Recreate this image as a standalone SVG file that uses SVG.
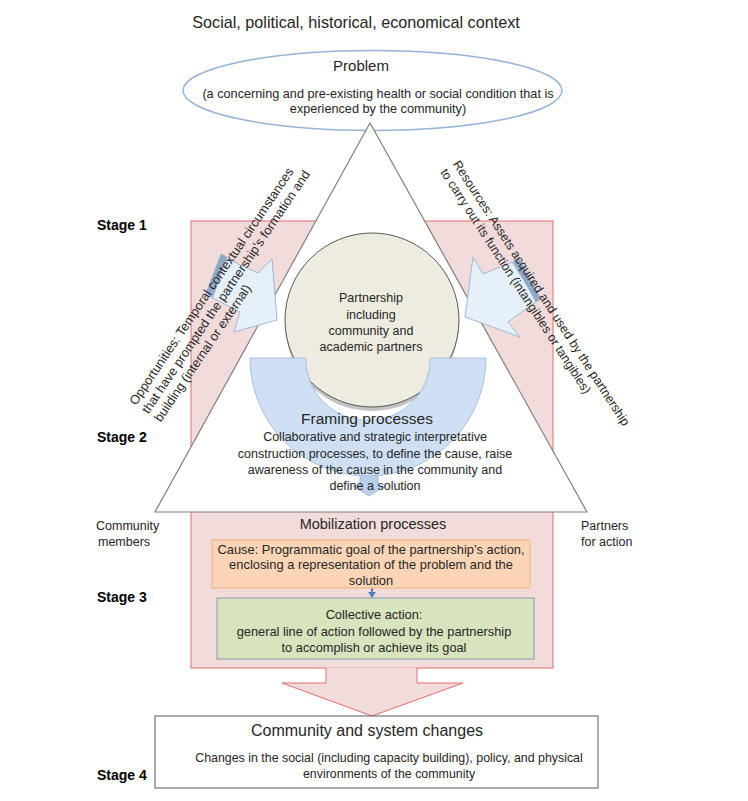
<svg xmlns="http://www.w3.org/2000/svg" width="748" height="801" viewBox="0 0 748 801">
<style>
text{font-family:"Liberation Sans",Arial,sans-serif;fill:#262626}
.c{text-anchor:middle}
.stage{font-weight:bold;font-size:14px;fill:#000}
.s12{font-size:12.5px}
.s13{font-size:12.9px}
.side{fill:#e6f0fb;stroke:#9fb8d8;stroke-width:1}
.band{fill:#8ea8c9;stroke:#8ea8c9;stroke-width:0.5}
</style>
<rect width="748" height="801" fill="#ffffff"/>

<g id="context">
<text class="c" x="356" y="28" font-size="16.2">Social, political, historical, economical context</text>
</g>

<g id="stage-area">
<rect x="191" y="221" width="362" height="447" fill="#f2dcdb" stroke="#e46c6c" stroke-width="1"/>
</g>

<g id="problem">
<ellipse cx="372.5" cy="90.5" rx="189.5" ry="40" fill="#ffffff" stroke="#95b3d7" stroke-width="1.5"/>
<text class="c" x="361" y="71" font-size="15">Problem</text>
<text class="c" x="378" y="98" font-size="12.7">(a concerning and pre-existing health or social condition that is</text>
<text class="c" x="378" y="113" font-size="12.7">experienced by the community)</text>
</g>

<g id="triangle">
<polygon points="370,123 155,512 587,512" fill="#ffffff" stroke="#7f7f7f" stroke-width="1.2"/>
</g>

<g id="connectors">
<polygon class="side" points="223,257 258,273 272,259 277,320 234,332 240,312 209,296"/>
<polygon class="band" points="221,254 227,257 213,297 206,293"/>
<polygon class="side" points="512,262 483,274 473,257 465,317 520,337 508,322 537,301"/>
<polygon class="band" points="513,261 519,258 541,299 536,302"/>
<polygon points="326,667.5 326,683 282,683 372,716 463,683 417,683 417,667.5" fill="#f2dcdb"/>
<polyline points="326,668 326,683 282,683 372,716 463,683 417,683 417,668" fill="none" stroke="#e46c6c" stroke-width="1"/>
<line x1="372" y1="588" x2="372" y2="593" stroke="#4f81bd" stroke-width="2"/>
<polygon points="368,592 376,592 372,598" fill="#4f81bd"/>
</g>

<g id="opportunities" transform="translate(136,406) rotate(-56)">
<text x="0" y="0" font-size="12.8">Opportunities: Temporal contextual circumstances</text>
<text x="0" y="15" font-size="12.8">that have prompted the partnership's formation and</text>
<text x="0" y="30" font-size="12.8">building (internal or external)</text>
</g>

<g id="resources" transform="translate(452.5,164) rotate(57)">
<text class="s12" x="0" y="0">Resources: Assets acquired and used by the partnership</text>
<text class="s12" x="0" y="15">to carry out its function (intangibles or tangibles)</text>
</g>

<g id="partnership">
<circle cx="372" cy="324" r="87" fill="#c4c4c4"/>
<circle cx="372" cy="320" r="87" fill="#eeece1" stroke="#595959" stroke-width="1"/>
<text class="c s12" x="371" y="302">Partnership</text>
<text class="c s12" x="371" y="318.5">including</text>
<text class="c s12" x="371" y="334.5">community and</text>
<text class="c s12" x="371" y="351">academic partners</text>
</g>

<g id="framing">
<polygon points="360,470 378,470 378,486 385,486 369,496 353,486 360,486" fill="#b9cfea" stroke="#a7bfde" stroke-width="1"/>
<path d="M250,358 A118,118 0 0 0 486,358 L430.5,358 A62.5,62.5 0 0 1 305.5,358 Z" fill="#cfe0f5" stroke="#a7bfde" stroke-width="1"/>
<text class="c" x="367" y="424" font-size="15.5">Framing processes</text>
<text class="c s12" x="375" y="440.5">Collaborative and strategic interpretative</text>
<text class="c s12" x="375" y="457.5">construction processes, to define the cause, raise</text>
<text class="c s12" x="375" y="474">awareness of the cause in the community and</text>
<text class="c s12" x="375" y="490">define a solution</text>
</g>

<g id="stages">
<text class="stage" x="97" y="230">Stage 1</text>
<text class="stage" x="97" y="442">Stage 2</text>
<text class="stage" x="97" y="602">Stage 3</text>
<text class="stage" x="97" y="780">Stage 4</text>
</g>

<g id="community-members">
<text class="s12" x="96" y="529.5">Community</text>
<text class="s12" x="98" y="546">members</text>
</g>

<g id="partners-for-action">
<text class="s12" x="581" y="529.5">Partners</text>
<text class="s12" x="581" y="546">for action</text>
</g>

<g id="mobilization">
<text class="c" x="373" y="529" font-size="14.5">Mobilization processes</text>
</g>

<g id="cause">
<rect x="212" y="540" width="318" height="48" fill="#fbd5b5" stroke="#f0b27f" stroke-width="1"/>
<text class="c s13" x="371" y="554">Cause: Programmatic goal of the partnership’s action,</text>
<text class="c s13" x="371" y="569">enclosing a representation of the problem and the</text>
<text class="c s13" x="371" y="585">solution</text>
</g>

<g id="collective-action">
<rect x="217" y="598" width="317" height="61" fill="#d7e4bd" stroke="#8497b0" stroke-width="1"/>
<text class="c" x="374" y="618.5" font-size="12.8">Collective action:</text>
<text class="c" x="374" y="636" font-size="12.8">general line of action followed by the partnership</text>
<text class="c" x="374" y="651.5" font-size="12.8">to accomplish or achieve its goal</text>
</g>

<g id="changes">
<rect x="155" y="716" width="443" height="72" fill="#ffffff" stroke="#595959" stroke-width="1"/>
<text class="c" x="367" y="736" font-size="16">Community and system changes</text>
<text class="c" x="389" y="762" font-size="12.4">Changes in the social (including capacity building), policy, and physical</text>
<text class="c" x="389" y="777.5" font-size="12.4">environments of the community</text>
</g>
</svg>
